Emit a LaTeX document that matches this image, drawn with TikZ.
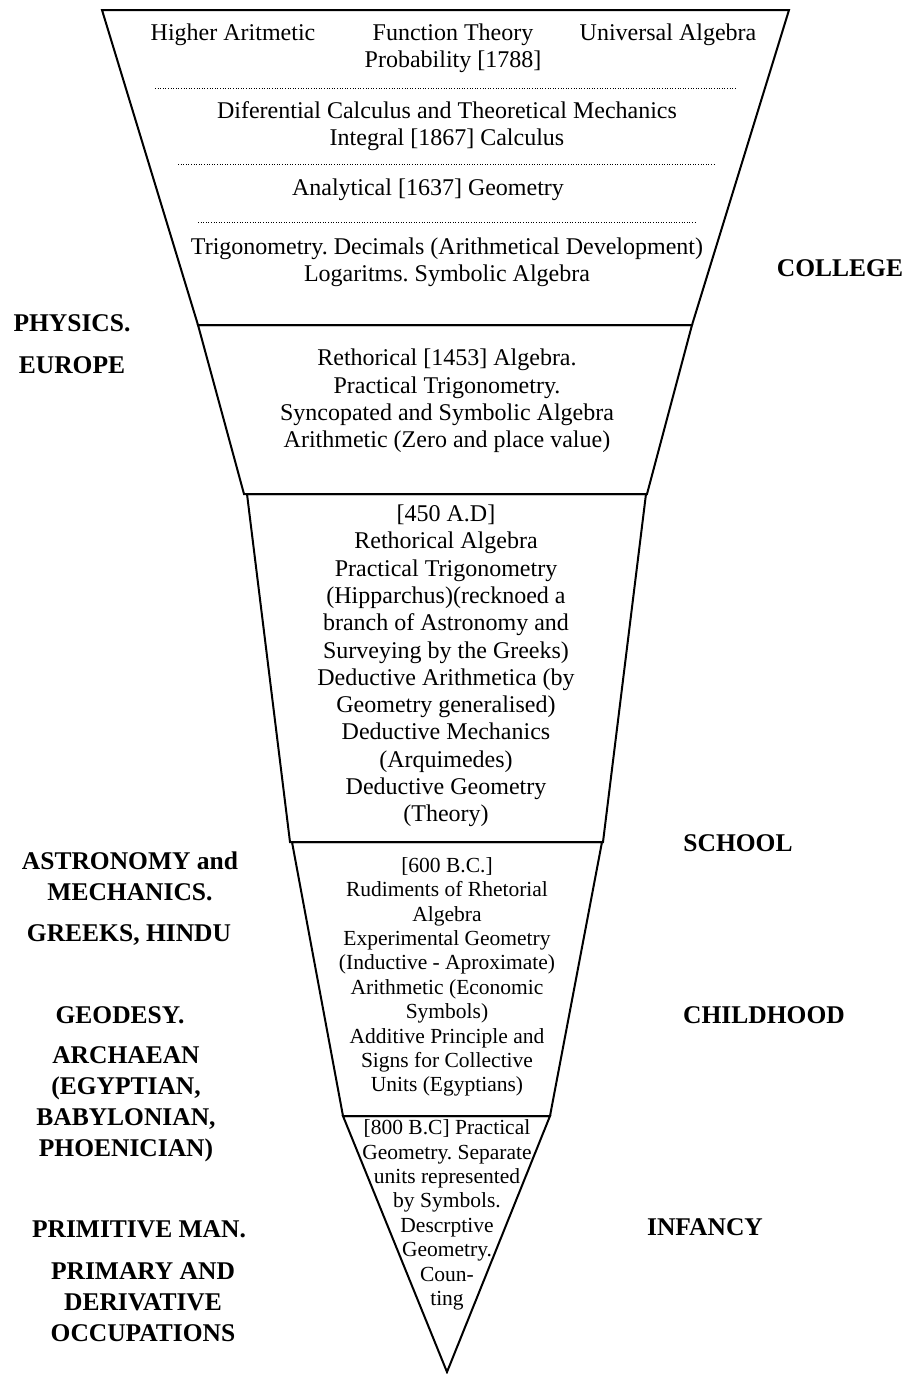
\documentclass[tikz,border=0pt]{standalone}
\usepackage{fontspec}
\setmainfont{Liberation Serif}
\frenchspacing
\begin{document}
\begin{tikzpicture}[x=1pt,y=-1pt]
    \tikzstyle{level}=[line width=2pt, line join=miter]
    \tikzstyle{dotrule}=[line width=1pt, dash pattern=on 1pt off 1.6pt]
    \tikzstyle{txt}=[align=center, inner sep=0pt, font=\fontsize{24}{27.3}\selectfont]
    \tikzstyle{smalltxt}=[align=center, inner sep=0pt, font=\fontsize{21.5}{24.4}\selectfont]
    \tikzstyle{era}=[align=center, inner sep=0pt, font=\bfseries\fontsize{25.5}{31}\selectfont]

    \useasboundingbox (0,0) rectangle (907,1374);

    % the funnel, one trapezoid per stage
    \draw[level] (102,10) -- (789,10) -- (692,325) -- (198,325) -- cycle;
    \draw[level] (198,325) -- (692,325) -- (647,494) -- (244,494) -- cycle;
    \draw[level] (247,494) -- (646,494) -- (603,842) -- (290,842) -- cycle;
    \draw[level] (292,842) -- (602,842) -- (550,1116) -- (343,1116) -- cycle;
    \draw[level] (343,1116) -- (550,1116) -- (447,1372) -- cycle;

    % college
    \node[txt] at (233,35) (hiar) {Higher Aritmetic};
    \node[txt] at (453,35) (funth) {Function Theory};
    \node[txt] at (668,35) (unalg) {Universal Algebra};
    \node[txt] at (453,62) (prob) {Probability [1788]};
    \draw[dotrule] (155,88) -- (735,88);
    \node[txt] at (447,126) (calc) {Diferential Calculus and Theoretical Mechanics\\Integral [1867] Calculus};
    \draw[dotrule] (178,164) -- (715,164);
    \node[txt] at (428,190) (anal) {Analytical [1637] Geometry};
    \draw[dotrule] (198,222) -- (696,222);
    \node[txt] at (447,262) (trig) {Trigonometry. Decimals (Arithmetical Development)\\Logaritms. Symbolic Algebra};

    % europe
    \node[txt] at (447,401) (reth) {Rethorical [1453] Algebra.\\Practical Trigonometry.\\Syncopated and Symbolic Algebra\\Arithmetic (Zero and place value)};

    % greeks
    \node[txt] at (446,666) (greek) {[450 A.D]\\Rethorical Algebra\\Practical Trigonometry\\(Hipparchus)(recknoed a\\branch of Astronomy and\\Surveying by the Greeks)\\Deductive Arithmetica (by\\Geometry generalised)\\Deductive Mechanics\\(Arquimedes)\\Deductive Geometry\\(Theory)};

    % archaean
    \node[smalltxt] at (447,977) (arch) {[600 B.C.]\\Rudiments of Rhetorial\\Algebra\\Experimental Geometry\\(Inductive - Aproximate)\\Arithmetic (Economic\\Symbols)\\Additive Principle and\\Signs for Collective\\Units (Egyptians)};

    % primitive
    \node[smalltxt] at (447,1215) (prim) {[800 B.C] Practical\\Geometry. Separate\\units represented\\by Symbols.\\Descrptive\\Geometry.\\Coun-\\ting};

    % left column
    \node[era] at (72,323) (phys) {PHYSICS.};
    \node[era] at (72,365) (eur) {EUROPE};
    \node[era] at (130,876) (astr) {ASTRONOMY and\\MECHANICS.};
    \node[era] at (129,935) (grhi) {GREEKS, HINDU};
    \node[era] at (120,1015) (geod) {GEODESY.};
    \node[era] at (126,1104) (egy) {ARCHAEAN\\(EGYPTIAN,\\BABYLONIAN,\\PHOENICIAN)};
    \node[era] at (139,1229) (pman) {PRIMITIVE MAN.};
    \node[era] at (143,1302) (occ) {PRIMARY AND\\DERIVATIVE\\OCCUPATIONS};

    % right column
    \node[era] at (840,268) (coll) {COLLEGE};
    \node[era] at (738,843) (scho) {SCHOOL};
    \node[era] at (764,1015) (chil) {CHILDHOOD};
    \node[era] at (705,1227) (inf) {INFANCY};
\end{tikzpicture}
\end{document}
